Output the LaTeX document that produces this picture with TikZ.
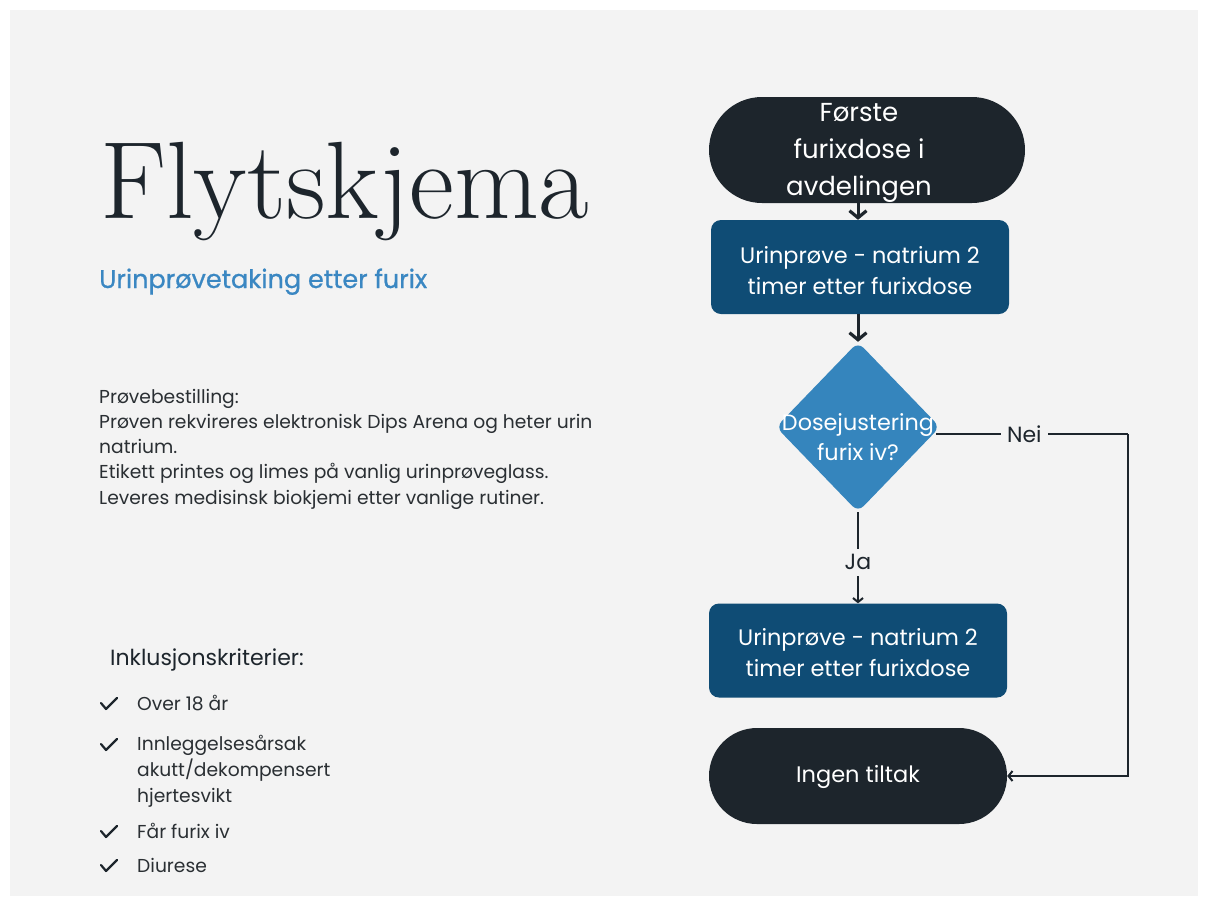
\documentclass[tikz,border=0pt]{standalone}
\usepackage{fontspec}
\setmainfont{Poppins}
\newfontfamily\titlefont{Latin Modern Roman}
\newfontfamily\semibfont{Poppins}[FakeBold=0.8]
\usetikzlibrary{arrows.meta,shapes.geometric,positioning}
\definecolor{bgc}{HTML}{F3F3F3}
\definecolor{darkc}{HTML}{1D252C}
\definecolor{boxc}{HTML}{0F4C75}
\definecolor{diac}{HTML}{3585BD}
\definecolor{subc}{HTML}{3A87C2}
\definecolor{txtc}{HTML}{2A2F33}
\tikzset{
  term/.style={fill=darkc, rounded corners=48pt, minimum width=298pt, minimum height=96pt, inner sep=0pt},
  procbox/.style={fill=boxc, rounded corners=10pt, minimum width=298pt, minimum height=94pt, inner sep=0pt},
  proctext/.style={text=white, align=center, font=\fontsize{22.4}{31}\selectfont},
  decide/.style={diamond, fill=diac, rounded corners=8pt, minimum width=164pt, minimum height=170pt, inner sep=0pt},
  wtext/.style={text=white, align=center},
  thickarrow/.style={line width=3pt, draw=darkc, -{Straight Barb[length=7pt,width=17pt,line width=3.2pt]}},
  thinarrow/.style={line width=2pt, draw=darkc, -{Straight Barb[length=4pt,width=10pt,line width=2pt]}},
  thinline/.style={line width=2pt, draw=darkc},
  edgelbl/.style={fill=bgc, inner sep=6pt, text=darkc, font=\fontsize{22}{24}\selectfont},
  bodytext/.style={align=left, text=txtc, inner sep=0pt, font=\fontsize{18.7}{25.2}\selectfont},
  checkmark/.style={line width=2.2pt, draw=darkc, line cap=round, line join=round},
}
\begin{document}
\begin{tikzpicture}[x=1pt,y=-1pt]
\useasboundingbox (0,0) rectangle (1208,906);
\fill[white] (0,0) rectangle (1208,906);
\fill[bgc] (10,10) rectangle (1198,896);

% title block
\node[anchor=base west, inner sep=0pt, text=darkc, font=\titlefont\fontsize{110}{110}\selectfont] (title) at (100,218) {Flytskjema};
\node[anchor=base west, inner sep=0pt, text=subc, font=\semibfont\fontsize{25.5}{28}\selectfont] (sub) at (99,288) {Urinprøvetaking etter furix};

% anchor base = baseline of the last line
\node[bodytext, anchor=base west] (order) at (99,504) {Prøvebestilling:\\Prøven rekvireres elektronisk Dips Arena og heter urin\\natrium.\\Etikett printes og limes på vanlig urinprøveglass.\\Leveres medisinsk biokjemi etter vanlige rutiner.};

\node[anchor=west, inner sep=0pt, text=darkc, font=\fontsize{22}{24}\selectfont] (inkl) at (110,660) {Inklusjonskriterier:};

\node[bodytext, anchor=west] (i1) at (137,703) {Over 18 år};
\node[bodytext, anchor=base west, font=\fontsize{18.7}{26}\selectfont] (i2) at (137,802) {Innleggelsesårsak\\akutt/dekompensert\\hjertesvikt};
\node[bodytext, anchor=west] (i3) at (137,831) {Får furix iv};
\node[bodytext, anchor=west] (i4) at (137,865) {Diurese};

\foreach \yy in {704,745,832,866}{
  \draw[checkmark] (101,\yy-1) -- (106,\yy+5) -- (117,\yy-6);
}

% flowchart
\node[term, minimum width=316pt, minimum height=106pt, rounded corners=53pt] (start) at (867,150) {};
\node[wtext, font=\fontsize{26}{37}\selectfont] (starttxt) at (859,153) {Første\\furixdose i\\avdelingen};
\node[procbox] (p1) at (860,267) {};
\node[proctext] (p1txt) at (860,271) {Urinprøve - natrium 2\\timer etter furixdose};
\node[decide] (d) at (858,427) {};
\node[wtext, font=\fontsize{22.3}{30}\selectfont] (dtxt) at (858,437) {Dosejustering\\furix iv?};
\node[procbox] (p2) at (858,650.5) {};
\node[proctext] (p2txt) at (858,653) {Urinprøve - natrium 2\\timer etter furixdose};
\node[term] (end) at (858,776) {};
\node[wtext, font=\fontsize{22.5}{26}\selectfont] (endtxt) at (858,777) {Ingen tiltak};

\coordinate (s1) at (858,203);
\coordinate (c1) at (1128,434);
\coordinate (c2) at (1128,776);
\coordinate (dr) at (936,434);

\draw[thickarrow] (s1) -- (p1.north -| s1);
\draw[thickarrow] (p1.south -| d.north) -- (d.north);
\draw[thinarrow] (d.south) -- node[edgelbl, pos=0.55] (ja) {Ja} (p2.north);
\draw[thinline] (dr) -- node[edgelbl, pos=0.46] (nei) {Nei} (c1);
\draw[thinarrow] (c1) -- (c2) -- (end.east);
\end{tikzpicture}
\end{document}
